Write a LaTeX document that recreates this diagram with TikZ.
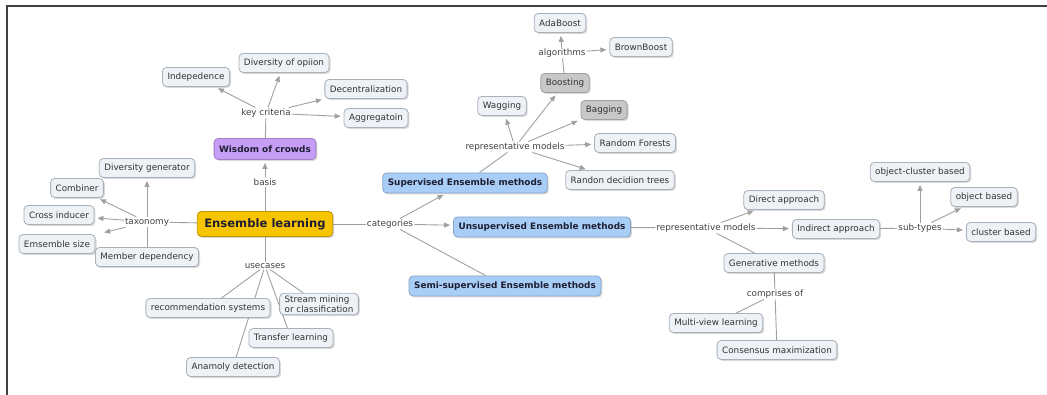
\documentclass[tikz,border=0pt]{standalone}
\usepackage{fontspec}
\setmainfont{DejaVu Sans}
\usepackage{xcolor}
\usepackage{tikz}
\usetikzlibrary{positioning,arrows.meta,shadows,backgrounds}
\definecolor{boxfill}{RGB}{238, 242, 246}
\definecolor{boxline}{RGB}{168, 176, 184}
\definecolor{linkgray}{RGB}{160, 160, 160}
\definecolor{rootgold}{RGB}{248, 196, 0}
\definecolor{crowdpurple}{RGB}{198, 158, 245}
\definecolor{methodblue}{RGB}{168, 206, 247}
\definecolor{algogray}{RGB}{200, 200, 200}
\definecolor{inkdark}{RGB}{30, 30, 50}

\begin{document}
\begin{tikzpicture}[x=1pt, y=-1pt,
        concept/.style={draw=boxline, fill=boxfill, rounded corners=4pt, line width=0.8pt,
          inner xsep=5pt, inner ysep=0pt, minimum height=19pt,
          font=\fontsize{8.8}{10.5}\selectfont, text=black!80,
          drop shadow={shadow xshift=1.5pt, shadow yshift=-1.5pt, opacity=0.3}},
        keyconcept/.style={concept, font=\fontsize{8.9}{10.5}\selectfont\bfseries, text=inkdark, minimum height=20pt},
        bluebox/.style={keyconcept, fill=methodblue, draw=methodblue!80!black},
        graybox/.style={concept, fill=algogray, draw=algogray!80!black},
        phrase/.style={inner sep=1pt, font=\fontsize{8.8}{10.5}\selectfont, text=black!75},
        link/.style={draw=linkgray, line width=0.9pt},
        linkto/.style={link, -{Triangle[length=6pt,width=5pt]}, shorten >=3pt}]
        \useasboundingbox (0,0) rectangle (1047,395);
        \draw[black!75, line width=2pt] (7,395) -- (7,6) -- (1047,6);

        \node[keyconcept, fill=rootgold, draw=rootgold!75!black, font=\fontsize{11.6}{13}\selectfont\bfseries,
          minimum height=25pt, inner xsep=7pt] (ensemble) at (265,224) {Ensemble learning};

        % wisdom of crowds
        \node[keyconcept, fill=crowdpurple, draw=crowdpurple!80!black, minimum height=21pt] (crowds) at (265,149) {Wisdom of crowds};
        \node[phrase] (basis) at (265,182) {basis};
        \node[phrase] (criteria) at (266,113) {key criteria};
        \node[concept] (indep) at (196,77) {Indepedence};
        \node[concept] (opinion) at (284,63) {Diversity of opiion};
        \node[concept] (decentral) at (366,89) {Decentralization};
        \node[concept] (aggr) at (376,118) {Aggregatoin};

        % taxonomy
        \node[phrase] (taxonomy) at (147,222) {taxonomy};
        \node[concept] (divgen) at (147,168) {Diversity generator};
        \node[concept] (combiner) at (77,188) {Combiner};
        \node[concept] (cross) at (59,215) {Cross inducer};
        \node[concept] (size) at (57,244) {Emsemble size};
        \node[concept] (member) at (147,257) {Member dependency};

        % usecases
        \node[phrase] (usecases) at (265,266) {usecases};
        \node[concept] (recsys) at (208,308) {recommendation systems};
        \node[concept, align=left, inner ysep=2pt] (stream) at (319,304) {Stream mining\\or classification};
        \node[concept] (transfer) at (291,338) {Transfer learning};
        \node[concept] (anomaly) at (233,367) {Anamoly detection};

        % categories
        \node[phrase] (categories) at (390,224) {categories};
        \node[bluebox] (superv) at (465,183) {Supervised Ensemble methods};
        \node[bluebox] (unsuperv) at (542,227) {Unsupervised Ensemble methods};
        \node[bluebox] (semi) at (505,286) {Semi-supervised Ensemble methods};

        % supervised models
        \node[phrase] (supmodels) at (515,147) {representative models};
        \node[concept] (wagging) at (502,106) {Wagging};
        \node[graybox] (boosting) at (565,83) {Boosting};
        \node[graybox] (bagging) at (604,110) {Bagging};
        \node[concept] (forests) at (635,143) {Random Forests};
        \node[concept] (trees) at (620,180) {Randon decidion trees};
        \node[phrase] (algorithms) at (562,53) {algorithms};
        \node[concept] (ada) at (560,23) {AdaBoost};
        \node[concept] (brown) at (641,47) {BrownBoost};

        % unsupervised models
        \node[phrase] (unsmodels) at (706,228) {representative models};
        \node[concept] (direct) at (784,200) {Direct approach};
        \node[concept] (indirect) at (836,229) {Indirect approach};
        \node[concept] (generative) at (774,263) {Generative methods};
        \node[phrase] (comprises) at (775,294) {comprises of};
        \node[concept] (multiview) at (716,323) {Multi-view learning};
        \node[concept] (consensus) at (777,350) {Consensus maximization};
        \node[phrase] (subtypes) at (920,228) {sub-types};
        \node[concept] (objcluster) at (920,172) {object-cluster based};
        \node[concept] (objbased) at (984,197) {object based};
        \node[concept] (clbased) at (1001,232) {cluster based};

        \begin{scope}[on background layer]
          \draw[link] (ensemble) -- (basis);
          \draw[linkto] (basis) -- (crowds);
          \draw[link] (crowds) -- (criteria);
          \draw[linkto] (criteria) -- (indep);
          \draw[linkto] (criteria) -- (opinion);
          \draw[linkto] (criteria) -- (decentral);
          \draw[linkto] (criteria) -- (aggr);

          \draw[link] (ensemble) -- (taxonomy);
          \draw[linkto] (taxonomy) -- (divgen);
          \draw[linkto] (taxonomy) -- (combiner);
          \draw[linkto] (taxonomy) -- (cross);
          \draw[linkto, shorten >=9pt] (taxonomy) -- (size);
          \draw[link] (taxonomy) -- (member);

          \draw[link] (ensemble) -- (usecases);
          \draw[link] (usecases) -- (recsys);
          \draw[link] (usecases) -- (stream);
          \draw[link] (usecases) -- (transfer);
          \draw[link] (usecases) -- (anomaly);

          \draw[link] (ensemble) -- (categories);
          \draw[linkto] (categories) -- (superv);
          \draw[linkto] (categories) -- (unsuperv);
          \draw[link] (categories) -- (semi);

          \draw[link] (superv) -- (supmodels);
          \draw[linkto] (supmodels) -- (wagging);
          \draw[linkto] (supmodels) -- (boosting);
          \draw[linkto] (supmodels) -- (bagging);
          \draw[linkto] (supmodels) -- (forests);
          \draw[linkto] (supmodels) -- (trees);
          \draw[link] (boosting) -- (algorithms);
          \draw[linkto] (algorithms) -- (ada);
          \draw[linkto] (algorithms) -- (brown);

          \draw[link] (unsuperv) -- (unsmodels);
          \draw[linkto] (unsmodels) -- (direct);
          \draw[linkto] (unsmodels) -- (indirect);
          \draw[link] (unsmodels) -- (generative);
          \draw[link] (generative) -- (comprises);
          \draw[link] (comprises) -- (multiview);
          \draw[link] (comprises) -- (consensus);
          \draw[link] (indirect) -- (subtypes);
          \draw[linkto] (subtypes) -- (objcluster);
          \draw[linkto] (subtypes) -- (objbased);
          \draw[linkto] (subtypes) -- (clbased);
        \end{scope}
      \end{tikzpicture}
\end{document}
